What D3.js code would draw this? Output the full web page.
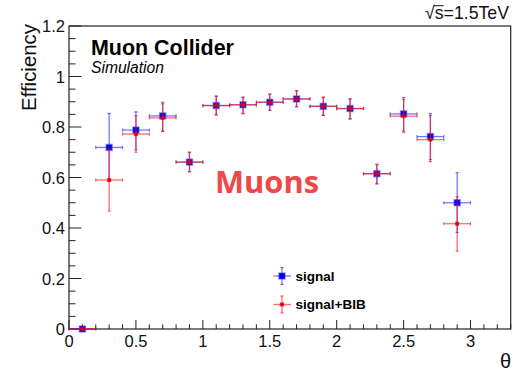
<!DOCTYPE html>
<html><head><meta charset="utf-8">
<script src="https://cdn.jsdelivr.net/npm/d3@7"></script>
<style>
html,body{margin:0;padding:0;background:#fff;}
svg{display:block;}
text{font-family:"Liberation Sans",Arial,Helvetica,sans-serif;}
</style></head>
<body>
<svg id="chart" width="519" height="374"></svg>
<script>
// ---- data ----
const theta = [0.1,0.3,0.5,0.7,0.9,1.1,1.3,1.5,1.7,1.9,2.1,2.3,2.5,2.7,2.9];
const binHalfWidth = [0.1,0.1,0.1,0.1,0.1,0.1,0.1,0.1,0.1,0.1,0.1,0.1,0.1,0.1,0.1];
const signal      = [0,0.719,0.788,0.844,0.661,0.885,0.888,0.898,0.911,0.882,0.873,0.615,0.852,0.762,0.500];
const signalErrUp = [0,0.135,0.072,0.054,0.039,0.037,0.030,0.032,0.033,0.036,0.038,0.037,0.065,0.091,0.119];
const signalErrDn = [0,0.134,0.078,0.061,0.038,0.037,0.035,0.032,0.031,0.036,0.041,0.040,0.068,0.091,0.118];
const signalBIB   = [0,0.590,0.772,0.836,0.661,0.885,0.888,0.898,0.911,0.882,0.873,0.615,0.843,0.750,0.417];
const bibErrUp    = [0,0.123,0.073,0.056,0.039,0.037,0.030,0.032,0.033,0.036,0.038,0.037,0.066,0.095,0.107];
const bibErrDn    = [0,0.123,0.072,0.053,0.038,0.037,0.035,0.032,0.031,0.036,0.041,0.040,0.064,0.087,0.109];
const xMajorTicks = [0,0.5,1,1.5,2,2.5,3];
const xTickLabels = ["0","0.5","1","1.5","2","2.5","3"];
const yMajorTicks = [0,0.2,0.4,0.6,0.8,1.0,1.2];
const yTickLabels = ["0","0.2","0.4","0.6","0.8","1","1.2"];
const seriesNames = ["signal","signal+BIB"];

// ---- layout ----
const L = 69, R = 510.7, T = 26, B = 329;
const svg = d3.select("#chart");
const x = d3.scaleLinear().domain([0,3.3]).range([L,R]);
const y = d3.scaleLinear().domain([0,1.2]).range([B,T]);

function fit(sel, w){
  const cur = sel.node().getComputedTextLength();
  const fs = parseFloat(sel.attr("font-size"));
  sel.attr("font-size", (fs*w/cur).toFixed(2));
  return sel;
}

// frame
svg.append("rect").attr("x",L).attr("y",T).attr("width",R-L).attr("height",B-T)
  .attr("fill","none").attr("stroke","#222").attr("stroke-width",1.2);

// ticks (inside frame, ROOT style)
const xMinor = d3.range(0,3.31,0.1).map(v=>+v.toFixed(2));
xMinor.forEach(v=>{
  const major = xMajorTicks.some(m=>Math.abs(m-v)<1e-6);
  svg.append("line").attr("x1",x(v)).attr("x2",x(v)).attr("y1",B).attr("y2",B-(major?9:4.7))
    .attr("stroke","#222").attr("stroke-width",1);
});
const yMinor = d3.range(0,1.201,0.05).map(v=>+v.toFixed(3));
yMinor.forEach(v=>{
  const major = yMajorTicks.some(m=>Math.abs(m-v)<1e-6);
  svg.append("line").attr("y1",y(v)).attr("y2",y(v)).attr("x1",L).attr("x2",L+(major?12.5:6.5))
    .attr("stroke","#222").attr("stroke-width",1);
});
// tick labels
svg.selectAll(".xl").data(xMajorTicks).enter().append("text")
  .attr("x",d=>x(d)).attr("y",347).attr("text-anchor","middle")
  .attr("font-size",16.5).attr("fill","#111").text((d,i)=>xTickLabels[i]);
svg.selectAll(".yl").data(yMajorTicks).enter().append("text")
  .attr("x",65).attr("y",d=>y(d)+6).attr("text-anchor","end")
  .attr("font-size",16.5).attr("fill","#111").text((d,i)=>yTickLabels[i]);

// axis titles
fit(svg.append("text").attr("transform","translate(35.5,24) rotate(-90)")
  .attr("text-anchor","end").attr("font-size",19.5).attr("fill","#111").text("Efficiency"), 87);
svg.append("text").attr("x",511).attr("y",368).attr("text-anchor","end")
  .attr("font-size",20).attr("fill","#111").text("θ");

// top-right label
const sq = fit(svg.append("text").attr("x",509).attr("y",18.5).attr("text-anchor","end")
  .attr("font-size",15.5).attr("fill","#111").text("√s=1.5TeV"), 84);
{
  const n = sq.node();
  const bb = n.getExtentOfChar(1);
  const rb = n.getExtentOfChar(0);
  svg.append("line").attr("x1",rb.x+rb.width-1).attr("x2",bb.x+bb.width).attr("y1",bb.y+3.2).attr("y2",bb.y+3.2)
    .attr("stroke","#111").attr("stroke-width",1);
}

// annotations
fit(svg.append("text").attr("x",91).attr("y",55).attr("font-size",19.5).attr("font-weight","bold")
  .attr("fill","#000").text("Muon Collider"), 143);
fit(svg.append("text").attr("x",91).attr("y",73).attr("font-size",14.5).attr("font-style","italic")
  .attr("fill","#000").text("Simulation"), 73);
fit(svg.append("text").attr("x",215).attr("y",193).attr("font-size",33).attr("font-weight","bold")
  .style("font-family","'Open Sans',sans-serif").attr("fill","#f04848").text("Muons"), 104);

// series drawing
function drawSeries(vals, up, dn, stroke, markerFn){
  const g = svg.append("g");
  vals.forEach((v,i)=>{
    const cx = x(theta[i]), cy = y(v);
    g.append("line").attr("x1",x(theta[i]-binHalfWidth[i])).attr("x2",x(theta[i]+binHalfWidth[i]))
      .attr("y1",cy).attr("y2",cy).attr("stroke",stroke).attr("stroke-width",1.3);
    [theta[i]-binHalfWidth[i], theta[i]+binHalfWidth[i]].forEach(e=>{
      g.append("line").attr("x1",x(e)).attr("x2",x(e)).attr("y1",cy-1.6).attr("y2",cy+1.6)
        .attr("stroke",stroke).attr("stroke-width",1.2);
    });
    if(up[i]>0 || dn[i]>0){
      g.append("line").attr("x1",cx).attr("x2",cx).attr("y1",y(v+up[i])).attr("y2",y(v-dn[i]))
        .attr("stroke",stroke).attr("stroke-width",1.3);
      [v+up[i], v-dn[i]].forEach(e=>{
        g.append("line").attr("x1",cx-1.6).attr("x2",cx+1.6).attr("y1",y(e)).attr("y2",y(e))
          .attr("stroke",stroke).attr("stroke-width",1.2);
      });
    }
    markerFn(g,cx,cy);
  });
}
const blueBar = "rgba(30,30,255,0.6)";
const redBar  = "rgba(255,20,20,0.62)";
function blueMarker(g,cx,cy){
  g.append("rect").attr("x",cx-3).attr("y",cy-3).attr("width",6).attr("height",6)
    .attr("fill","#0000e8").attr("stroke","rgba(60,60,255,0.45)").attr("stroke-width",1.6);
}
function redMarker(g,cx,cy){
  g.append("rect").attr("x",cx-1.6).attr("y",cy-1.6).attr("width",3.2).attr("height",3.2)
    .attr("fill","#c80020").attr("stroke","rgba(255,0,0,0.5)").attr("stroke-width",1.2);
}
drawSeries(signal, signalErrUp, signalErrDn, blueBar, blueMarker);
drawSeries(signalBIB, bibErrUp, bibErrDn, redBar, redMarker);

// legend
const leg = [{y:276,c:blueBar,m:blueMarker},{y:304.5,c:redBar,m:redMarker}];
leg.forEach((l,i)=>{
  const cx = 282;
  svg.append("line").attr("x1",273.5).attr("x2",291).attr("y1",l.y).attr("y2",l.y).attr("stroke",l.c).attr("stroke-width",1.3);
  svg.append("line").attr("x1",cx).attr("x2",cx).attr("y1",l.y-8.5).attr("y2",l.y+8.5).attr("stroke",l.c).attr("stroke-width",1.3);
  [l.y-8.5,l.y+8.5].forEach(e=>svg.append("line").attr("x1",cx-1.6).attr("x2",cx+1.6).attr("y1",e).attr("y2",e).attr("stroke",l.c).attr("stroke-width",1.2));
  l.m(svg,cx,l.y);
  svg.append("text").attr("x",295.5).attr("y",l.y+4.8).attr("font-size",13.5).attr("font-weight","bold")
    .attr("fill","#000").text(seriesNames[i]);
});
</script>
</body></html>
